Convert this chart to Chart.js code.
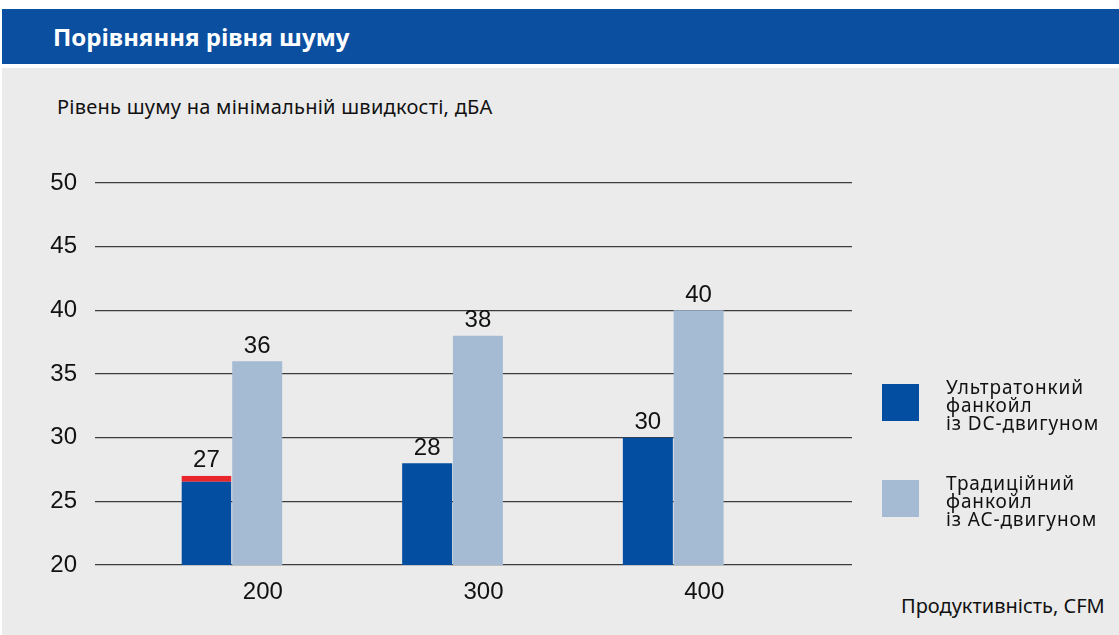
<!DOCTYPE html>
<html>
<head>
<meta charset="utf-8">
<script src="https://cdn.jsdelivr.net/npm/chart.js@4/dist/chart.umd.min.js"></script>
<style>
  html, body { margin: 0; padding: 0; background: #fff; }
  #page { position: relative; width: 1119px; height: 635px; overflow: hidden; }
  #titlebar { position: absolute; left: 2px; top: 9px; width: 1117px; height: 55px; background: #0b4fa1; }
  #titlebar span { position: absolute; left: 51px; top: 11px; color: #fff; font: bold 24px "Noto Sans", sans-serif; }
  #panel { position: absolute; left: 2px; top: 68px; width: 1117px; height: 567px; background: #ebebeb; }
  #ytitle { position: absolute; left: 57px; top: 93px; font: 20px "Noto Sans", sans-serif; color: #111; letter-spacing: 0.25px; }
  #xtitle { position: absolute; left: 901px; top: 592px; font: 20px "Noto Sans", sans-serif; color: #111; }
  #wrap { position: absolute; left: 0; top: 0; width: 1119px; height: 635px; }
  #grafico { display: block; width: 1119px; height: 635px; }
  .leg { position: absolute; left: 882px; font: 19px/18px "Noto Sans", sans-serif; color: #111; letter-spacing: 0.9px; }
  .leg i { position: absolute; left: 0; top: 0; width: 37px; height: 37px; }
  .leg div { position: absolute; left: 64px; top: -6px; width: 230px; }
</style>
</head>
<body>
<div id="page">
  <div id="titlebar"><span>Порівняння рівня шуму</span></div>
  <div id="panel"></div>
  <div id="ytitle">Рівень шуму на мінімальній швидкості, дБА</div>
  <div id="xtitle">Продуктивність, CFM</div>
  <div id="wrap"><canvas id="grafico" width="1119" height="635"></canvas></div>
  <div id="legend"></div>
</div>
<script>
// dati
var categorie = [200, 300, 400];
var serieDC = [27, 28, 30];   // ultratonkyi, DC
var serieAC = [36, 38, 40];   // tradyciinyi, AC
var tickY = [20, 25, 30, 35, 40, 45, 50];
var nomiSerie = [
  ['Ультратонкий', 'фанкойл', 'із DC-двигуном'],
  ['Традиційний', 'фанкойл', 'із AC-двигуном']
];
var colori = ['#034ea0', '#a5bbd4'];

// legenda html (testo su più righe)
var leg = document.getElementById('legend');
var topLeg = [384, 480];
for (var i = 0; i < nomiSerie.length; i++) {
  var d = document.createElement('div');
  d.className = 'leg';
  d.style.top = topLeg[i] + 'px';
  d.innerHTML = '<i style="background:' + colori[i] + '"></i><div>' + nomiSerie[i].join('<br>') + '</div>';
  leg.appendChild(d);
}

function punti(valori) {
  var out = [];
  for (var i = 0; i < categorie.length; i++) {
    out.push({ x: categorie[i], y: valori[i] });
  }
  return out;
}

// etichette sopra le barre
var etichette = {
  id: 'etichette',
  afterDatasetsDraw: function (chart) {
    var ctx = chart.ctx;
    ctx.save();
    ctx.font = '24px "Liberation Sans", Arial, sans-serif';
    ctx.fillStyle = '#111';
    ctx.textAlign = 'center';
    ctx.textBaseline = 'bottom';
    chart.data.datasets.forEach(function (ds, di) {
      chart.getDatasetMeta(di).data.forEach(function (el, j) {
        ctx.fillText(ds.data[j].y, el.x, el.y - 3);
      });
    });
    ctx.restore();
  }
};

var ctx = document.getElementById('grafico');
var chart = new Chart(ctx, {
  type: 'bar',
  data: {
    datasets: [{
      label: nomiSerie[0].join(' '),
      data: punti(serieDC),
      backgroundColor: colori[0],
      borderColor: '#e8262b',
      borderWidth: function (c) { return c.dataIndex === 0 ? { top: 6, left: 0, right: 0, bottom: 0 } : 0; },
      borderSkipped: false,
      categoryPercentage: 0.46,
      barPercentage: 0.985
    }, {
      label: nomiSerie[1].join(' '),
      data: punti(serieAC),
      backgroundColor: colori[1],
      borderWidth: 0,
      categoryPercentage: 0.46,
      barPercentage: 0.985
    }]
  },
  options: {
    responsive: false,
    animation: false,
    layout: { padding: { left: 0, right: 267, top: 183, bottom: 0 } },
    plugins: { legend: { display: false }, tooltip: { enabled: false } },
    scales: {
      x: {
        type: 'linear',
        offset: false,
        min: 138,
        max: 481,
        afterBuildTicks: function (s) { s.ticks = categorie.map(function (v) { return { value: v }; }); },
        afterFit: function (s) { s.height = 70; },
        grid: { display: false },
        border: { display: false },
        ticks: { color: '#111', padding: 5, labelOffset: 31, font: { family: 'Liberation Sans', size: 24 } }
      },
      y: {
        min: 20,
        max: 50,
        afterBuildTicks: function (s) { s.ticks = tickY.map(function (v) { return { value: v }; }); },
        afterFit: function (s) { s.width = 95; },
        grid: { color: '#3c3c3c', lineWidth: 1.3, drawTicks: false },
        border: { display: false },
        ticks: { color: '#111', padding: 18, font: { family: 'Liberation Sans', size: 24 } }
      }
    }
  },
  plugins: [etichette]
});
</script>
</body>
</html>
